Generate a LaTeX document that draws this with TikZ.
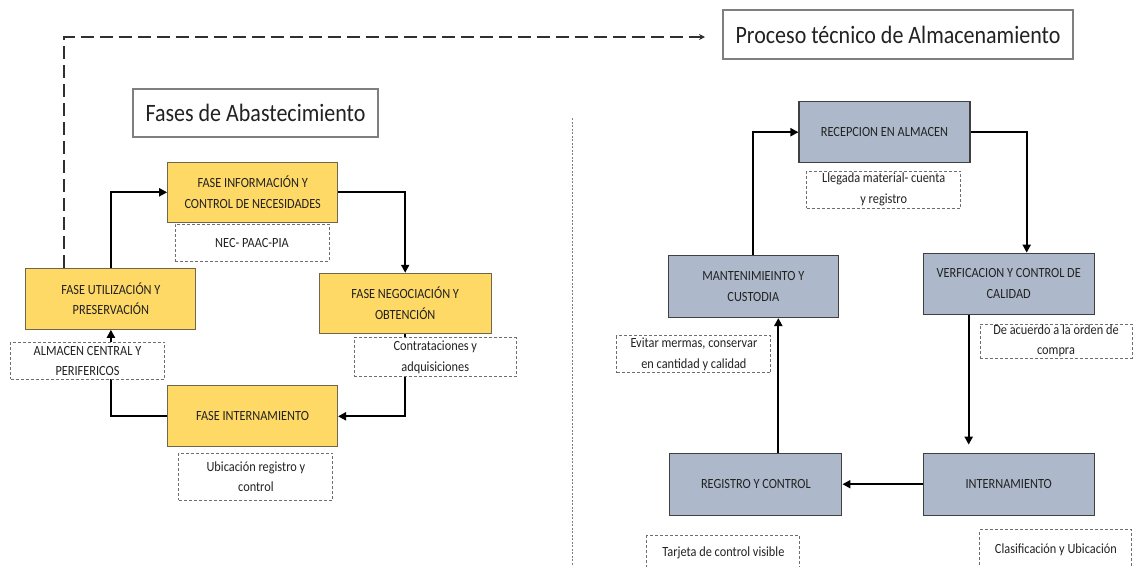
\documentclass[tikz,border=0pt]{standalone}
\usepackage{fontspec}
\setmainfont{Carlito}
\newfontfamily\narrowfont[FakeStretch=0.88]{Carlito}
\usetikzlibrary{arrows.meta,calc}

\definecolor{gold}{HTML}{FFD966}
\definecolor{goldedge}{HTML}{6F6650}
\definecolor{steel}{HTML}{ADB9CA}
\definecolor{steeledge}{HTML}{404040}
\definecolor{noteedge}{HTML}{6E6E6E}
\definecolor{headedge}{HTML}{7F7F7F}
\definecolor{txt}{HTML}{222222}
\definecolor{linkgray}{HTML}{303030}

\tikzset{
  boxtext/.style={font=\narrowfont\fontsize{14}{20.5}\selectfont, text=txt, align=center, inner sep=0pt},
  phase/.style={boxtext, draw=goldedge, fill=gold, line width=1.1pt},
  stage/.style={boxtext, draw=steeledge, fill=steel, line width=1.1pt},
  note/.style={boxtext, draw=noteedge, fill=white, line width=0.9pt, dash pattern=on 3pt off 2pt},
  heading/.style={draw=headedge, fill=white, line width=1.1pt,
    font=\narrowfont\fontsize{25}{28}\selectfont, text=txt, inner sep=0pt},
  conn/.style={draw=black, line width=2.2pt, -{Triangle[length=8pt,width=8pt]}},
  link/.style={draw=linkgray, line width=1.8pt, dash pattern=on 13pt off 6pt,
    -{Stealth[length=6pt,width=6pt]}},
  divider/.style={draw=gray, line width=0.8pt, dash pattern=on 2pt off 1.5pt}
}

\begin{document}
\begin{tikzpicture}[x=1pt,y=-1pt]
\useasboundingbox (0,0) rectangle (1133,566);
\clip (0,0) rectangle (1133,566);

% ---- Fases de Abastecimiento ----
\node[heading, minimum width=245pt, minimum height=48pt] (tA) at (255.5,113) {Fases de Abastecimiento};

\node[phase, minimum width=170pt, minimum height=60pt] (info) at (252.7,192.3)
  {FASE INFORMACIÓN Y\\CONTROL DE NECESIDADES};
\node[phase, minimum width=170pt, minimum height=61pt] (util) at (110.9,298.7)
  {FASE UTILIZACIÓN Y\\PRESERVACIÓN};
\node[phase, minimum width=172pt, minimum height=60pt] (nego) at (405.2,303.3)
  {FASE NEGOCIACIÓN Y\\OBTENCIÓN};
\node[phase, minimum width=170pt, minimum height=61pt] (intA) at (252.5,416.3)
  {FASE INTERNAMIENTO};

% ---- Proceso técnico de Almacenamiento ----
\node[heading, minimum width=350pt, minimum height=49pt] (tB) at (898,34.5) {Proceso técnico de Almacenamiento};

\node[stage, minimum width=171pt, minimum height=61pt] (recep) at (884.5,132.2)
  {RECEPCION EN ALMACEN};
\node[stage, minimum width=170pt, minimum height=62pt] (mant) at (753.3,286.5)
  {MANTENIMIEINTO Y\\CUSTODIA};
\node[stage, minimum width=171pt, minimum height=61pt] (verif) at (1008.7,283.7)
  {VERFICACION Y CONTROL DE\\CALIDAD};
\node[stage, minimum width=172pt, minimum height=62pt] (regis) at (755.9,484.2)
  {REGISTRO Y CONTROL};
\node[stage, minimum width=171pt, minimum height=62pt] (intB) at (1008.7,484.2)
  {INTERNAMIENTO};

% ---- connectors, left cycle ----
\draw[conn] (util.north) |- (info.west);
\draw[conn] (info.east) -| (nego.north);
\draw[conn] (nego.south) |- (intA.east);
\draw[conn] (intA.west) -| (util.south);

% ---- connectors, right cycle ----
\draw[conn] (mant.north) |- (recep.west);
\draw[conn] (recep.east) -| ([xshift=18pt]verif.north);
\draw[conn, shorten >=8pt] ([xshift=-40pt]verif.south) -- ([xshift=-40pt]intB.north);
\draw[conn] (intB.west) -- (regis.east);
\draw[conn] ([xshift=22.4pt]regis.north) -- ([xshift=22.4pt]regis.north |- mant.south);

% ---- link between both parts ----
\coordinate (linkend) at (705,37);
\draw[link] ([xshift=39pt]util.north west) |- (linkend);

% ---- separator ----
\draw[divider] (572,118) -- (572,566);

% ---- notes ----
\node[note, minimum width=154pt, minimum height=37pt] (nec) at (252,242.5) {NEC- PAAC-PIA};
\node[note, minimum width=154pt, minimum height=37pt] (alm) at (87.5,360.8)
  {ALMACEN CENTRAL Y\\PERIFERICOS};
\node[note, minimum width=162pt, minimum height=39pt] (contr) at (435.3,357.3)
  {Contrataciones y\\adquisiciones};
\node[note, minimum width=154pt, minimum height=47pt] (ubic) at (255.9,476.7)
  {Ubicación registro y\\control};

\node[note, minimum width=154pt, minimum height=37pt] (lleg) at (883.7,189.5)
  {Llegada material- cuenta\\y registro};
\node[note, minimum width=154pt, minimum height=37pt] (evit) at (693.9,354.2)
  {Evitar mermas, conservar\\en cantidad y calidad};
\node[note, minimum width=152pt, minimum height=34pt] (acuer) at (1056,341)
  {De acuerdo a  la orden de\\compra};
\node[note, minimum width=153pt, minimum height=35pt] (tarj) at (723.4,553.3)
  {Tarjeta de control visible};
\node[note, minimum width=152pt, minimum height=39pt] (clas) at (1055.9,549.3)
  {Clasificación y Ubicación};
\end{tikzpicture}
\end{document}
